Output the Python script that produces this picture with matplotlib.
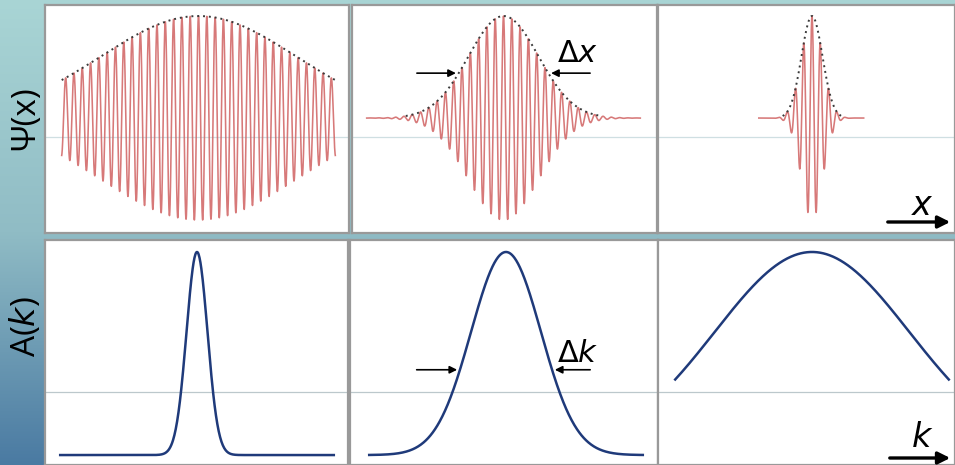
import numpy as np
import matplotlib.pyplot as plt
from matplotlib.colors import LinearSegmentedColormap

W, H = 955, 465

# panel layout in pixels (left, right) per column, (top, bottom) per row
top_cols = [(45, 349), (352, 657), (658, 955)]
bot_cols = [(45, 348), (350, 658), (658, 955)]
top_row = (5, 233)
bot_row = (240, 465)
top_peak_px = [198.5, 503.5, 812]
bot_peak_px = [197, 506, 812]
PX = 30.4  # pixels per x unit

# values (x units)
sigma_x = [3.2, 1.15, 0.345]      # envelope width of psi(x), per panel
sigma_k = [0.345, 1.15, 3.2]      # width of A(k), per panel
x_span = [(-4.5, 4.5), (-4.5, 4.5), (-1.75, 1.7)]
k_span = [(-4.5, 4.5), (-4.5, 4.5), (-4.5, 4.5)]
k0 = 23.0                         # carrier wave number
psi_ylim = (-1.127, 1.108)
amp_ylim = (-0.049, 1.059)
psi_grid = -0.19
amp_grid = 0.31
dx_level = 0.44
dk_level = 0.42

plt.rcParams['font.family'] = ['Open Sans', 'DejaVu Sans']

fig = plt.figure(figsize=(W / 100, H / 100), dpi=100)

# gradient background
bg = fig.add_axes([0, 0, 1, 1])
cmap = LinearSegmentedColormap.from_list('bg', ['#a9d5d5', '#90bcc5', '#4a7aa2'])
bg.imshow(np.linspace(0, 1, 256).reshape(-1, 1), cmap=cmap, aspect='auto',
          extent=[0, 1, 0, 1], origin='upper')
bg.set_axis_off()


def make_ax(cols, rows, peak):
    l, r = cols
    t, b = rows
    ax = fig.add_axes([l / W, 1 - b / H, (r - l) / W, (b - t) / H])
    ax.set_xlim((l - peak) / PX, (r - peak) / PX)
    ax.set_xticks([])
    ax.set_yticks([])
    for s in ax.spines.values():
        s.set_color('#999999')
        s.set_linewidth(1.6)
    return ax


top_axes = []
for i in range(3):
    ax = make_ax(top_cols[i], top_row, top_peak_px[i])
    ax.set_ylim(*psi_ylim)
    ax.axhline(psi_grid, color='#cfdfe2', lw=0.9)
    x = np.linspace(x_span[i][0], x_span[i][1], 4000)
    env = np.exp(-x**2 / (2 * sigma_x[i]**2))
    ax.plot(x, env * np.cos(k0 * x), color='#d06262', lw=1.15, alpha=0.85)
    m = env > 0.02
    ax.plot(x[m], env[m], color='#3a3a3a', lw=1.4, ls=(0, (1, 2)))
    top_axes.append(ax)

bot_axes = []
for i in range(3):
    ax = make_ax(bot_cols[i], bot_row, bot_peak_px[i])
    ax.set_ylim(*amp_ylim)
    ax.axhline(amp_grid, color='#bcc8cc', lw=0.9)
    k = np.linspace(k_span[i][0], k_span[i][1], 600)
    ax.plot(k, np.exp(-k**2 / (2 * sigma_k[i]**2)), color='#1f3a7a', lw=1.8)
    bot_axes.append(ax)

# width markers
arrow = dict(arrowstyle='-|>', color='black', lw=1.2, mutation_scale=11)
ax = top_axes[1]
xt = sigma_x[1] * np.sqrt(2 * np.log(1 / dx_level))
ax.annotate('', xy=(-xt, dx_level), xytext=(-2.94, dx_level), arrowprops=arrow)
ax.annotate('', xy=(xt, dx_level), xytext=(2.94, dx_level), arrowprops=arrow)
ax.text(2.43, 0.63, r'$\Delta x$', fontsize=22, ha='center', va='center',
        math_fontfamily='dejavusans')

ax = bot_axes[1]
kt = sigma_k[1] * np.sqrt(2 * np.log(1 / dk_level))
ax.annotate('', xy=(-kt, dk_level), xytext=(-3.03, dk_level), arrowprops=arrow)
ax.annotate('', xy=(kt, dk_level), xytext=(2.86, dk_level), arrowprops=arrow)
ax.text(2.37, 0.50, r'$\Delta k$', fontsize=22, ha='center', va='center',
        math_fontfamily='dejavusans')

# axis direction arrows and row labels (figure pixel coords)
ov = fig.add_axes([0, 0, 1, 1], facecolor='none')
ov.set_xlim(0, W)
ov.set_ylim(H, 0)
ov.set_axis_off()
big = dict(arrowstyle='-|>', color='black', lw=2.4, mutation_scale=18)
ov.annotate('', xy=(953, 222), xytext=(885, 222), arrowprops=big)
ov.text(922, 206, r'$x$', fontsize=24, ha='center', va='center',
        math_fontfamily='dejavusans')
ov.annotate('', xy=(953, 458), xytext=(887, 458), arrowprops=big)
ov.text(922, 438, r'$k$', fontsize=24, ha='center', va='center',
        math_fontfamily='dejavusans')

ov.text(26, 118, 'Ψ(x)', fontsize=24, rotation=90, ha='center', va='center')
ov.text(26, 327, r'A($k$)', fontsize=24, rotation=90, ha='center', va='center',
        math_fontfamily='dejavusans')

fig.savefig('out.png', dpi=100)
